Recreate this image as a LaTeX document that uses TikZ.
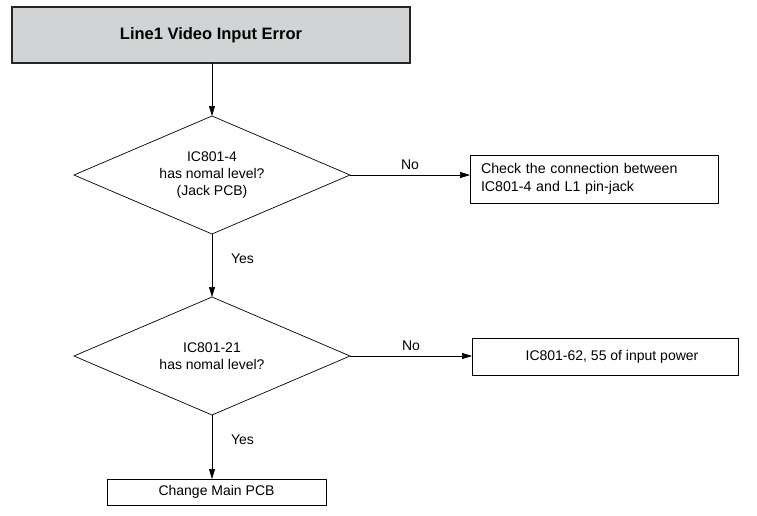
\documentclass[tikz,border=0pt]{standalone}
\usepackage{fontspec}
\setmainfont{Liberation Sans}
\usetikzlibrary{shapes.geometric,arrows.meta}
\definecolor{titlefill}{HTML}{D1D3D4}
\begin{document}
\begin{tikzpicture}[x=1pt,y=-1pt,
  every node/.style={inner sep=0pt, outer sep=0pt},
  titlebox/.style={draw=black!85, line width=1.8pt, fill=titlefill, minimum width=398pt, minimum height=56pt, font=\fontsize{16.5}{18}\selectfont\bfseries},
  decision/.style={draw, line width=0.7pt, diamond, aspect=2.34, minimum width=276pt, minimum height=118pt, align=center, font=\fontsize{14}{17}\selectfont},
  actbox/.style={draw, line width=0.7pt, rectangle, font=\fontsize{14}{17}\selectfont},
  lbl/.style={font=\fontsize{14}{17}\selectfont},
  arr/.style={line width=0.7pt, -{Triangle[length=10pt,width=6pt]}}
]
\useasboundingbox (0,0) rectangle (757,515);
\node[titlebox] (title) at (211,35) {Line1 Video Input Error};
\node[decision] (d1) at (212,175) {IC801-4\\has nomal level?\\(Jack PCB)};
\node[actbox, minimum width=248pt, minimum height=48pt, align=left, text width=226pt, font=\fontsize{14.2}{17.5}\selectfont] (b1) at (594,179) {Check the connection between\\IC801-4 and L1 pin-jack};
\node[decision] (d2) at (212,356) {IC801-21\\has nomal level?};
\node[actbox, minimum width=266pt, minimum height=37pt] (b2) at (605,357) {\hspace{14pt}IC801-62, 55 of input power};
\node[actbox, minimum width=219pt, minimum height=26pt] (b3) at (216.5,492) {Change Main PCB};
\draw[arr] (title.south -| d1.north) -- (d1.north);
\draw[arr] (d1.east) -- node[lbl, above=5pt] (no1) {No} (b1.west |- d1.east);
\draw[arr] (d1.south) -- node[lbl, pos=0.4, right=19pt] (yes1) {Yes} (d2.north);
\draw[arr] (d2.east) -- node[lbl, above=5pt] (no2) {No} (b2.west |- d2.east);
\draw[arr] (d2.south) -- node[lbl, pos=0.38, right=19pt] (yes2) {Yes} (b3.north -| d2.south);
\end{tikzpicture}
\end{document}
